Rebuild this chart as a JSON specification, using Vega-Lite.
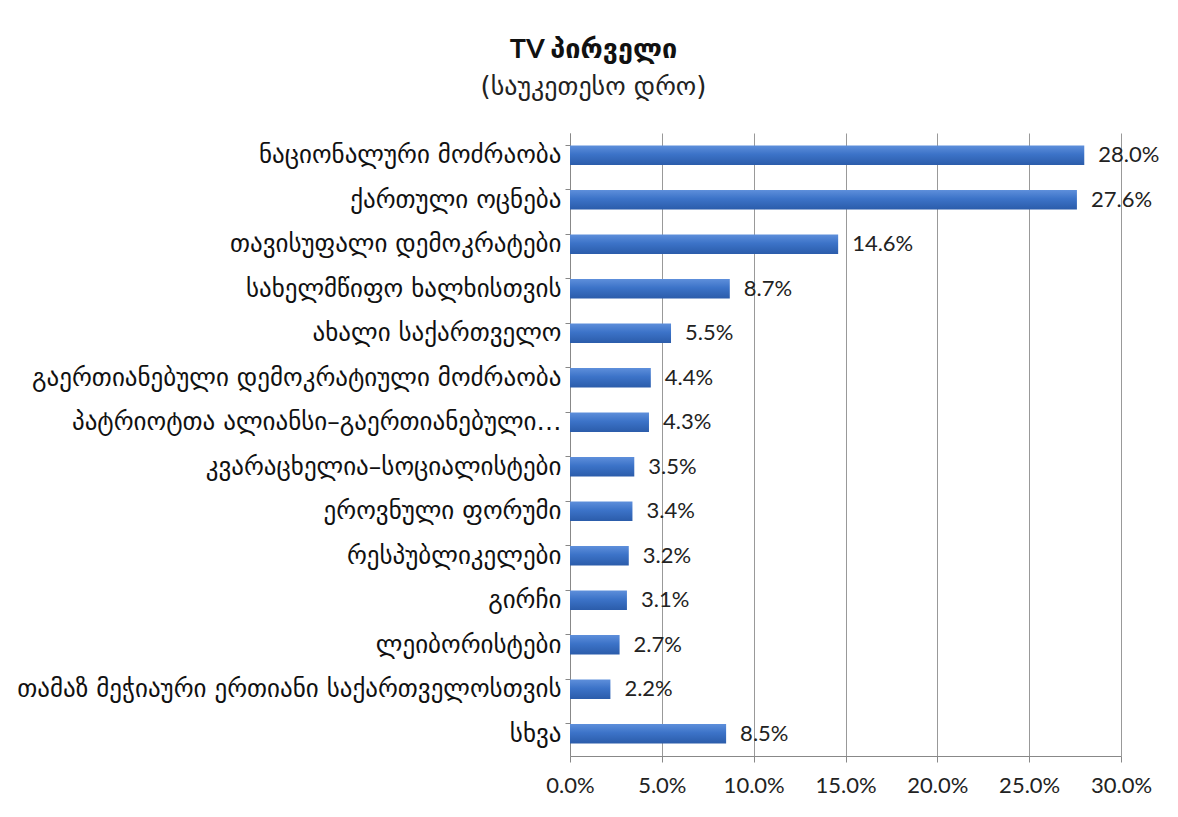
{
  "$schema": "https://vega.github.io/schema/vega-lite/v6.json",
  "autosize": {"type": "none"},
  "width": 551,
  "height": 623,
  "padding": {"left": 570, "top": 133, "right": 57, "bottom": 61},
  "background": "white",
  "title": {
    "text": "TV პირველი",
    "subtitle": "(საუკეთესო დრო)",
    "anchor": "middle",
    "dx": -252,
    "offset": 32,
    "font": "Lato, DejaVu Sans",
    "fontSize": 27,
    "fontWeight": "bold",
    "color": "#111111",
    "subtitleFont": "DejaVu Sans",
    "subtitleFontSize": 26,
    "subtitleColor": "#222222",
    "subtitlePadding": 10
  },
  "data": {
    "values": [
      {"party": "ნაციონალური მოძრაობა", "share": 0.280},
      {"party": "ქართული ოცნება", "share": 0.276},
      {"party": "თავისუფალი დემოკრატები", "share": 0.146},
      {"party": "სახელმწიფო ხალხისთვის", "share": 0.087},
      {"party": "ახალი საქართველო", "share": 0.055},
      {"party": "გაერთიანებული დემოკრატიული მოძრაობა", "share": 0.044},
      {"party": "პატრიოტთა ალიანსი–გაერთიანებული…", "share": 0.043},
      {"party": "კვარაცხელია–სოციალისტები", "share": 0.035},
      {"party": "ეროვნული ფორუმი", "share": 0.034},
      {"party": "რესპუბლიკელები", "share": 0.032},
      {"party": "გირჩი", "share": 0.031},
      {"party": "ლეიბორისტები", "share": 0.027},
      {"party": "თამაზ მეჭიაური ერთიანი საქართველოსთვის", "share": 0.022},
      {"party": "სხვა", "share": 0.085}
    ]
  },
  "encoding": {
    "y": {
      "field": "party",
      "type": "nominal",
      "sort": null,
      "title": null,
      "scale": {"paddingInner": 0.56, "paddingOuter": 0.28},
      "axis": {
        "bandPosition": 0,
        "domainColor": "#888888",
        "tickColor": "#888888",
        "tickSize": 5,
        "labelPadding": 4,
        "labelFont": "DejaVu Sans",
        "labelFontSize": 25,
        "labelColor": "#111111",
        "labelLimit": 600,
        "grid": false
      }
    },
    "x": {
      "field": "share",
      "type": "quantitative",
      "title": null,
      "scale": {"domain": [0, 0.3], "nice": false},
      "axis": {
        "format": ".1%",
        "values": [0, 0.05, 0.1, 0.15, 0.2, 0.25, 0.3],
        "grid": true,
        "gridColor": "#999999",
        "gridWidth": 1,
        "domainColor": "#888888",
        "tickColor": "#888888",
        "tickSize": 6,
        "labelPadding": 13,
        "labelFlush": false,
        "labelOverlap": false,
        "labelFont": "Lato, DejaVu Sans",
        "labelFontSize": 22,
        "labelColor": "#222222"
      }
    }
  },
  "layer": [
    {
      "mark": {
        "type": "bar",
        "color": {
          "gradient": "linear",
          "x1": 0, "y1": 0, "x2": 0, "y2": 1,
          "stops": [
            {"offset": 0, "color": "#5e8fdb"},
            {"offset": 0.45, "color": "#3c73c8"},
            {"offset": 1, "color": "#2b5caa"}
          ]
        }
      }
    },
    {
      "mark": {
        "type": "text",
        "align": "left",
        "dx": 14,
        "font": "Lato, DejaVu Sans",
        "fontSize": 22,
        "color": "#222222"
      },
      "encoding": {
        "text": {"field": "share", "type": "quantitative", "format": ".1%"}
      }
    }
  ],
  "config": {
    "view": {"stroke": null}
  }
}
